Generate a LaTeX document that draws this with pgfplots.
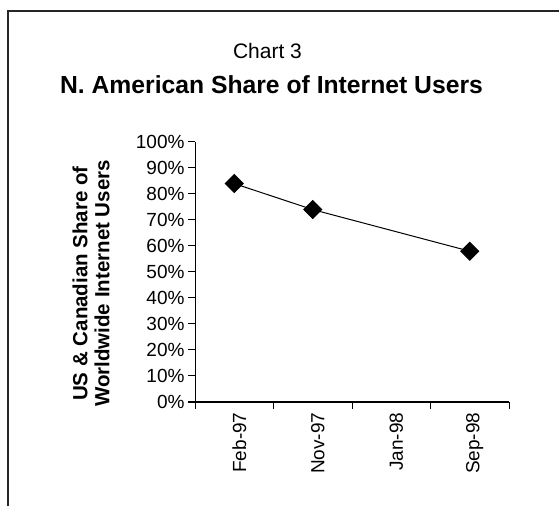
\documentclass[border=0pt]{standalone}
\usepackage{pgfplots}
\pgfplotsset{compat=1.18}
\usepackage{fontspec}
\setmainfont{Liberation Sans}
\begin{document}
\begin{tikzpicture}[x=1pt,y=1pt]
\useasboundingbox (0,0) rectangle (559,506);
% outer frame (top and left edges visible)
\draw[line width=1.5pt, black!85] (8,0) -- (8,495) -- (559,495);
\node[anchor=base, font=\fontsize{21}{24}\selectfont] at (267.5,447.7) {Chart 3};
\node[anchor=base, font=\fontsize{24.7}{28}\selectfont\bfseries] at (271.5,412) {N. American Share of Internet Users};
\node[rotate=90, align=center, font=\fontsize{20.5}{22}\selectfont\bfseries, inner sep=0pt] at (91,222.5) {US \& Canadian Share of\\Worldwide Internet Users};
\begin{axis}[
  at={(195pt,104pt)}, anchor=south west,
  scale only axis, width=314pt, height=260pt,
  xmin=-0.5, xmax=3.5, ymin=0, ymax=100,
  axis x line=bottom, axis y line=left,
  axis line style={-, line width=1pt, black},
  tick style={line width=1pt, black},
  tick align=outside, major tick length=7pt,
  xtick={-0.5,0.5,1.5,2.5,3.5},
  x tick label as interval,
  xticklabels={Feb-97,Nov-97,Jan-98,Sep-98},
  xticklabel style={rotate=90, anchor=east, yshift=-5pt},
  ytick={0,10,...,100},
  yticklabel={\pgfmathprintnumber{\tick}\%},
  yticklabel style={xshift=0pt},
  tick label style={font=\fontsize{19}{22}\selectfont},
  /pgf/number format/assume math mode=true,
  clip=false,
]
\addplot[black, line width=1pt, mark=square*, mark size=6.3pt, mark options={rotate=45, fill=black}]
  coordinates {(0,84) (1,74) (3,58)};
\end{axis}
\end{tikzpicture}
\end{document}
